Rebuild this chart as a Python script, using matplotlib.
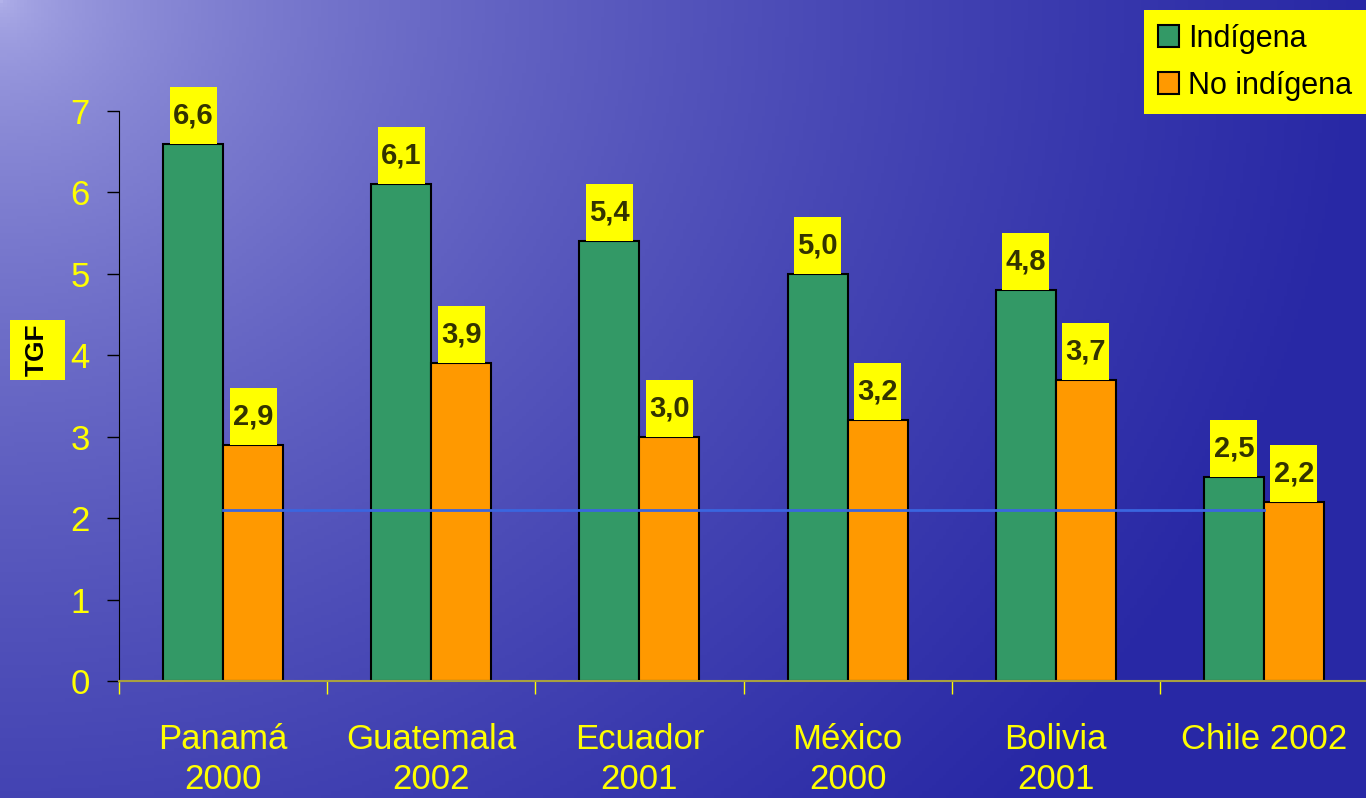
import numpy as np
import matplotlib
matplotlib.use('Agg')
import matplotlib.pyplot as plt
from matplotlib.patches import Rectangle

# datos
paises = ['Panamá\n2000', 'Guatemala\n2002', 'Ecuador\n2001', 'México\n2000', 'Bolivia\n2001', 'Chile 2002']
indigena = [6.6, 6.1, 5.4, 5.0, 4.8, 2.5]
no_indigena = [2.9, 3.9, 3.0, 3.2, 3.7, 2.2]
linea_ref = 2.1

plt.rcParams['font.family'] = ['Liberation Sans', 'DejaVu Sans']

fig = plt.figure(figsize=(13.66, 7.98), dpi=100)

# fondo azul (degradado)
bg = fig.add_axes([0, 0, 1, 1])
W, H = 400, 240
xx, yy = np.meshgrid(np.linspace(0, 1, W), np.linspace(0, 1, H))
t = np.clip(np.sqrt((xx * 1.2) ** 2 + (yy * 0.8) ** 2) / 1.2, 0, 1) ** 0.55
c0 = np.array([178, 178, 234]) / 255.
c1 = np.array([40, 40, 165]) / 255.
img = c0[None, None, :] * (1 - t[..., None]) + c1[None, None, :] * t[..., None]
bg.imshow(img, aspect='auto', extent=[0, 1, 0, 1])
bg.axis('off')

ax = fig.add_axes([119 / 1366, 1 - 681 / 798, 1249 / 1366, 570 / 798])
ax.patch.set_alpha(0)

x = np.arange(len(paises)) + 0.5
w = 0.288
verde = '#339966'
naranja = '#ff9900'
ax.bar(x - w / 2, indigena, w, color=verde, edgecolor='black', linewidth=1.5, label='Indígena', zorder=2)
ax.bar(x + w / 2, no_indigena, w, color=naranja, edgecolor='black', linewidth=1.5, label='No indígena', zorder=2)

ax.plot([x[0], x[-1]], [linea_ref, linea_ref], color='#3a66e0', lw=2, zorder=3)

# etiquetas de valor
bw, bh = 0.226, 0.70
for xs, vals in ((x - w / 2, indigena), (x + w / 2, no_indigena)):
    for xi, v in zip(xs, vals):
        ax.add_patch(Rectangle((xi - bw / 2, v), bw, bh, facecolor='#ffff00', edgecolor='none',
                               zorder=4, clip_on=False))
        ax.text(xi, v + bh / 2, f'{v:.1f}'.replace('.', ','), ha='center', va='center',
                fontsize=21, fontweight='bold', color='#333300', zorder=5, clip_on=False)

ax.set_xlim(0, 6)
ax.set_ylim(0, 7)
ax.set_yticks(range(8))
ax.tick_params(axis='y', colors='black', labelcolor='#ffff00', labelsize=25, length=9, width=1, pad=12)
ax.set_xticks(x)
ax.set_xticklabels(paises, color='#ffff00', fontsize=25, linespacing=1.3)
ax.set_xticks(np.arange(7), minor=True)
ax.tick_params(axis='x', which='major', length=0, pad=30)
ax.tick_params(axis='x', which='minor', length=9, color='#ffff00', width=1)
for s in ('top', 'right'):
    ax.spines[s].set_visible(False)
ax.spines['left'].set_color('black')
ax.spines['bottom'].set_color('#a8a040')
ax.spines['bottom'].set_linewidth(1.5)

# etiqueta del eje y
fig.patches.append(Rectangle((10 / 1366, 1 - 380 / 798), 55 / 1366, 60 / 798,
                             transform=fig.transFigure, facecolor='#ffff00', edgecolor='none', zorder=3))
fig.text(37 / 1366, 1 - 350 / 798, 'TGF', rotation=90, ha='center', va='center',
         fontsize=19, fontweight='bold', color='black', zorder=4)

leg = ax.legend(loc='upper right', bbox_to_anchor=(1.0, 1 - 10 / 798), bbox_transform=fig.transFigure,
                fontsize=22, frameon=True, fancybox=False, handlelength=0.7, handleheight=0.7,
                handletextpad=0.3, borderpad=0.45, borderaxespad=0, labelspacing=0.55)
leg.get_frame().set_facecolor('#ffff00')
leg.get_frame().set_edgecolor('none')
leg.get_frame().set_alpha(1)

fig.savefig('out.png', dpi=100)
